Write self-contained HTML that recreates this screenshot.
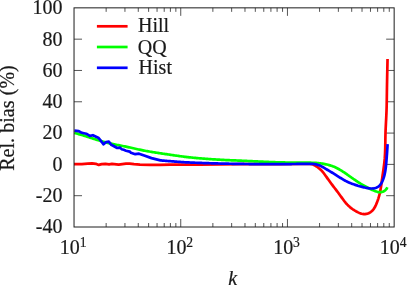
<!DOCTYPE html>
<html><head><meta charset="utf-8"><title>chart</title>
<style>html,body{margin:0;padding:0;background:#fff;}body{width:407px;height:285px;position:relative;overflow:hidden;font-family:"Liberation Serif",serif;}</style>
</head><body>
<svg width="407" height="285" viewBox="0 0 407 285" style="position:absolute;left:0;top:0;will-change:transform">
<rect width="407" height="285" fill="#fff"/>
<path d="M74.03,39.16h8 M394.15,39.16h-8 M74.03,70.46h8 M394.15,70.46h-8 M74.03,101.77h8 M394.15,101.77h-8 M74.03,133.08h8 M394.15,133.08h-8 M74.03,164.39h8 M394.15,164.39h-8 M74.03,195.69h8 M394.15,195.69h-8 M106.15,227.0v-4 M106.15,7.85v4 M124.94,227.0v-4 M124.94,7.85v4 M138.27,227.0v-4 M138.27,7.85v4 M148.61,227.0v-4 M148.61,7.85v4 M157.06,227.0v-4 M157.06,7.85v4 M164.21,227.0v-4 M164.21,7.85v4 M170.40,227.0v-4 M170.40,7.85v4 M175.85,227.0v-4 M175.85,7.85v4 M180.74,227.0v-8 M180.74,7.85v8 M212.86,227.0v-4 M212.86,7.85v4 M231.65,227.0v-4 M231.65,7.85v4 M244.98,227.0v-4 M244.98,7.85v4 M255.32,227.0v-4 M255.32,7.85v4 M263.77,227.0v-4 M263.77,7.85v4 M270.91,227.0v-4 M270.91,7.85v4 M277.10,227.0v-4 M277.10,7.85v4 M282.56,227.0v-4 M282.56,7.85v4 M287.44,227.0v-8 M287.44,7.85v8 M319.57,227.0v-4 M319.57,7.85v4 M338.36,227.0v-4 M338.36,7.85v4 M351.69,227.0v-4 M351.69,7.85v4 M362.03,227.0v-4 M362.03,7.85v4 M370.48,227.0v-4 M370.48,7.85v4 M377.62,227.0v-4 M377.62,7.85v4 M383.81,227.0v-4 M383.81,7.85v4 M389.27,227.0v-4 M389.27,7.85v4" stroke="#1c1c1c" stroke-width="0.75" fill="none"/>
<g fill="none" stroke-width="2.7" stroke-linejoin="round" stroke-linecap="butt">
<path d="M74.00,164.10 L81.80,164.10 L87.70,163.60 L92.10,163.30 L95.80,163.80 L98.70,164.90 L101.70,164.10 L105.40,163.80 L109.10,164.40 L112.00,163.90 L114.20,164.10 L118.70,164.70 L122.30,164.10 L126.00,163.60 L129.70,163.60 L134.00,164.20 L140.00,164.60 L150.00,164.90 L160.00,164.80 L170.00,164.60 L180.00,164.60 L200.00,164.70 L220.00,164.50 L240.00,164.20 L260.00,164.10 L280.00,164.10 L300.00,164.00 L310.00,164.00 L311.23,164.04 L312.40,164.29 L313.51,164.71 L314.58,165.26 L315.61,165.87 L316.62,166.52 L317.60,167.21 L318.56,167.93 L319.49,168.68 L320.39,169.48 L321.26,170.31 L322.08,171.18 L322.87,172.08 L323.62,173.02 L324.34,173.97 L325.05,174.94 L325.74,175.92 L326.44,176.90 L327.13,177.88 L327.82,178.86 L328.52,179.83 L329.22,180.81 L329.92,181.78 L330.62,182.75 L331.33,183.71 L332.05,184.67 L332.77,185.63 L333.49,186.58 L334.23,187.53 L334.96,188.48 L335.69,189.43 L336.42,190.38 L337.15,191.33 L337.87,192.29 L338.58,193.25 L339.29,194.22 L340.00,195.18 L340.70,196.16 L341.40,197.14 L342.09,198.11 L342.79,199.09 L343.50,200.06 L344.22,201.02 L344.96,201.96 L345.72,202.88 L346.51,203.77 L347.33,204.64 L348.18,205.48 L349.05,206.29 L349.95,207.08 L350.88,207.83 L351.84,208.56 L352.82,209.26 L353.82,209.94 L354.86,210.59 L355.91,211.21 L356.99,211.81 L358.09,212.38 L359.22,212.89 L360.36,213.34 L361.52,213.70 L362.69,213.96 L363.87,214.10 L365.05,214.10 L366.25,213.95 L367.43,213.66 L368.58,213.24 L369.68,212.70 L370.71,212.05 L371.66,211.30 L372.52,210.46 L373.29,209.55 L374.00,208.58 L374.63,207.55 L375.22,206.48 L375.75,205.38 L376.24,204.26 L376.71,203.13 L377.15,201.99 L377.57,200.86 L377.97,199.73 L378.35,198.59 L378.70,197.45 L379.03,196.30 L379.34,195.15 L379.63,194.00 L379.90,192.83 L380.14,191.67 L380.37,190.49 L380.58,189.31 L380.78,188.13 L380.97,186.95 L381.15,185.76 L381.32,184.57 L381.49,183.38 L381.65,182.19 L381.81,181.00 L381.98,179.81 L382.15,178.62 L382.31,177.44 L382.48,176.25 L382.65,175.06 L382.82,173.88 L382.99,172.69 L383.16,171.51 L383.33,170.32 L383.49,169.13 L383.66,167.95 L383.82,166.76 L383.97,165.57 L384.12,164.38 L384.27,163.19 L384.40,162.00 L384.52,160.81 L384.63,159.61 L384.74,158.42 L384.82,157.23 L384.90,156.03 L384.97,154.84 L385.03,153.64 L385.09,152.44 L385.13,151.25 L385.17,150.05 L385.21,148.85 L385.23,147.65 L385.26,146.45 L385.28,145.26 L385.30,144.06 L385.32,142.86 L385.33,141.66 L385.35,140.46 L385.37,139.26 L385.39,138.06 L385.41,136.86 L385.43,135.66 L385.46,134.46 L385.49,133.26 L385.53,132.07 L385.57,130.87 L385.62,129.67 L385.67,128.47 L385.73,127.28 L385.79,126.08 L385.85,124.88 L385.91,123.69 L385.97,122.49 L386.03,121.29 L386.10,120.10 L386.16,118.90 L386.22,117.70 L386.28,116.51 L386.33,115.31 L386.39,114.11 L386.44,112.91 L386.49,111.72 L386.53,110.52 L386.57,109.32 L386.61,108.12 L386.64,106.93 L386.67,105.73 L386.70,104.53 L386.72,103.33 L386.74,102.13 L386.76,100.94 L386.78,99.74 L386.80,98.54 L386.82,97.34 L386.83,96.14 L386.85,94.94 L386.87,93.75 L386.89,92.55 L386.90,91.35 L386.92,90.15 L386.94,88.95 L386.96,87.75 L386.98,86.56 L387.00,85.36 L387.02,84.16 L387.04,82.96 L387.07,81.76 L387.09,80.57 L387.11,79.37 L387.14,78.17 L387.16,76.97 L387.18,75.77 L387.21,74.57 L387.23,73.38 L387.26,72.18 L387.29,70.98 L387.31,69.78 L387.34,68.58 L387.36,67.39 L387.39,66.19 L387.42,64.99 L387.44,63.79 L387.47,62.59 L387.50,61.40 L387.52,60.20 L387.55,59.00" stroke="#ff0000"/>
<path d="M74.40,133.00 L75.46,133.26 L76.51,133.52 L77.57,133.80 L78.61,134.09 L79.66,134.38 L80.71,134.68 L81.75,134.99 L82.79,135.31 L83.83,135.63 L84.87,135.95 L85.90,136.28 L86.94,136.61 L87.97,136.95 L89.01,137.28 L90.04,137.62 L91.08,137.95 L92.11,138.29 L93.15,138.62 L94.18,138.96 L95.22,139.29 L96.26,139.61 L97.29,139.94 L98.33,140.25 L99.38,140.56 L100.42,140.87 L101.47,141.17 L102.51,141.46 L103.56,141.75 L104.61,142.03 L105.67,142.30 L106.72,142.57 L107.78,142.83 L108.83,143.09 L109.89,143.34 L110.95,143.58 L112.01,143.82 L113.08,144.06 L114.14,144.29 L115.20,144.51 L116.27,144.73 L117.33,144.95 L118.40,145.16 L119.47,145.37 L120.53,145.59 L121.60,145.80 L122.67,146.01 L123.74,146.22 L124.80,146.43 L125.87,146.64 L126.93,146.86 L128.00,147.09 L129.06,147.31 L130.12,147.55 L131.18,147.78 L132.24,148.02 L133.30,148.26 L134.37,148.51 L135.43,148.75 L136.49,148.99 L137.55,149.23 L138.61,149.46 L139.67,149.69 L140.74,149.92 L141.80,150.14 L142.87,150.35 L143.93,150.56 L145.00,150.77 L146.07,150.96 L147.14,151.16 L148.21,151.35 L149.28,151.54 L150.36,151.72 L151.43,151.90 L152.50,152.08 L153.58,152.25 L154.65,152.42 L155.72,152.59 L156.80,152.76 L157.87,152.92 L158.95,153.09 L160.02,153.25 L161.10,153.41 L162.18,153.57 L163.25,153.73 L164.33,153.88 L165.40,154.04 L166.48,154.20 L167.56,154.36 L168.63,154.52 L169.71,154.68 L170.78,154.83 L171.86,154.99 L172.93,155.15 L174.01,155.31 L175.09,155.47 L176.16,155.63 L177.24,155.78 L178.32,155.94 L179.39,156.09 L180.47,156.24 L181.55,156.38 L182.63,156.52 L183.70,156.66 L184.78,156.80 L185.86,156.93 L186.94,157.05 L188.02,157.17 L189.10,157.29 L190.19,157.41 L191.27,157.52 L192.35,157.63 L193.43,157.73 L194.52,157.84 L195.60,157.94 L196.68,158.04 L197.76,158.13 L198.85,158.23 L199.93,158.32 L201.02,158.41 L202.10,158.50 L203.18,158.59 L204.27,158.68 L205.35,158.76 L206.44,158.85 L207.52,158.93 L208.61,159.01 L209.69,159.09 L210.78,159.16 L211.86,159.24 L212.95,159.31 L214.03,159.38 L215.12,159.45 L216.20,159.52 L217.29,159.58 L218.37,159.65 L219.46,159.71 L220.54,159.77 L221.63,159.83 L222.72,159.88 L223.80,159.94 L224.89,159.99 L225.97,160.04 L227.06,160.09 L228.15,160.14 L229.23,160.19 L230.32,160.23 L231.41,160.28 L232.49,160.33 L233.58,160.37 L234.67,160.42 L235.75,160.46 L236.84,160.51 L237.93,160.55 L239.01,160.60 L240.10,160.65 L241.19,160.69 L242.27,160.74 L243.36,160.79 L244.44,160.84 L245.53,160.89 L246.62,160.94 L247.70,160.99 L248.79,161.04 L249.88,161.09 L250.96,161.14 L252.05,161.19 L253.14,161.24 L254.22,161.29 L255.31,161.34 L256.39,161.39 L257.48,161.45 L258.57,161.50 L259.65,161.55 L260.74,161.60 L261.83,161.65 L262.91,161.71 L264.00,161.76 L265.08,161.81 L266.17,161.86 L267.26,161.90 L268.34,161.95 L269.43,162.00 L270.52,162.04 L271.60,162.09 L272.69,162.13 L273.78,162.17 L274.86,162.21 L275.95,162.24 L277.04,162.27 L278.13,162.31 L279.21,162.34 L280.30,162.36 L281.39,162.39 L282.47,162.42 L283.56,162.44 L284.65,162.46 L285.74,162.48 L286.82,162.50 L287.91,162.52 L289.00,162.53 L290.09,162.55 L291.17,162.56 L292.26,162.58 L293.35,162.59 L294.43,162.60 L295.52,162.61 L296.61,162.62 L297.70,162.63 L298.78,162.64 L299.87,162.65 L300.96,162.66 L302.05,162.67 L303.13,162.67 L304.22,162.68 L305.31,162.69 L306.40,162.69 L307.48,162.70 L308.57,162.70 L309.66,162.71 L310.75,162.72 L311.84,162.73 L312.92,162.76 L314.01,162.79 L315.10,162.84 L316.18,162.91 L317.26,163.00 L318.35,163.10 L319.43,163.23 L320.50,163.37 L321.58,163.53 L322.66,163.70 L323.73,163.89 L324.80,164.09 L325.87,164.31 L326.94,164.55 L328.00,164.81 L329.05,165.08 L330.10,165.38 L331.14,165.71 L332.17,166.06 L333.18,166.44 L334.19,166.84 L335.19,167.28 L336.17,167.74 L337.14,168.22 L338.10,168.73 L339.05,169.26 L340.00,169.80 L340.93,170.37 L341.86,170.94 L342.78,171.53 L343.69,172.13 L344.60,172.74 L345.51,173.36 L346.40,173.98 L347.30,174.60 L348.19,175.23 L349.08,175.86 L349.96,176.49 L350.85,177.12 L351.74,177.74 L352.63,178.37 L353.52,178.99 L354.41,179.61 L355.30,180.23 L356.20,180.84 L357.11,181.44 L358.02,182.04 L358.94,182.62 L359.86,183.21 L360.78,183.78 L361.71,184.35 L362.65,184.91 L363.59,185.45 L364.53,185.99 L365.48,186.52 L366.43,187.04 L367.39,187.55 L368.35,188.05 L369.32,188.54 L370.29,189.01 L371.27,189.47 L372.26,189.91 L373.27,190.34 L374.29,190.75 L375.32,191.13 L376.37,191.50 L377.43,191.82 L378.50,192.06 L379.57,192.20 L380.65,192.21 L381.73,192.06 L382.79,191.75 L383.80,191.29 L384.73,190.70 L385.58,189.99 L386.30,189.16 L386.89,188.22 L387.30,187.20" stroke="#00ff00"/>
<path d="M74.40,130.60 L78.80,131.10 L81.80,132.80 L86.20,133.70 L89.90,135.90 L92.90,135.20 L98.70,138.00 L103.60,144.30 L106.10,142.10 L108.80,141.70 L111.30,144.80 L117.20,148.00 L120.10,147.60 L121.60,149.20 L123.80,149.80 L126.00,150.70 L129.70,151.60 L130.90,152.70 L135.30,154.20 L139.00,153.70 L144.20,155.60 L151.50,158.10 L160.40,160.40 L161.29,160.47 L162.19,160.54 L163.08,160.61 L163.98,160.68 L164.87,160.75 L165.77,160.82 L166.66,160.89 L167.56,160.97 L168.45,161.04 L169.35,161.11 L170.24,161.18 L171.13,161.26 L172.03,161.33 L172.92,161.40 L173.82,161.47 L174.71,161.54 L175.61,161.61 L176.50,161.68 L177.40,161.75 L178.29,161.82 L179.19,161.88 L180.08,161.94 L180.98,162.01 L181.87,162.07 L182.77,162.12 L183.66,162.18 L184.56,162.23 L185.46,162.28 L186.35,162.33 L187.25,162.38 L188.14,162.43 L189.04,162.47 L189.94,162.51 L190.83,162.55 L191.73,162.59 L192.63,162.63 L193.52,162.67 L194.42,162.71 L195.32,162.74 L196.21,162.77 L197.11,162.81 L198.01,162.84 L198.90,162.87 L199.80,162.90 L200.70,162.93 L201.60,162.97 L202.49,163.00 L203.39,163.03 L204.29,163.06 L205.18,163.09 L206.08,163.12 L206.98,163.14 L207.87,163.17 L208.77,163.20 L209.67,163.23 L210.56,163.26 L211.46,163.28 L212.36,163.31 L213.26,163.34 L214.15,163.36 L215.05,163.39 L215.95,163.41 L216.84,163.44 L217.74,163.46 L218.64,163.48 L219.54,163.51 L220.43,163.53 L221.33,163.55 L222.23,163.57 L223.12,163.59 L224.02,163.61 L224.92,163.63 L225.82,163.65 L226.71,163.67 L227.61,163.69 L228.51,163.71 L229.40,163.73 L230.30,163.75 L231.20,163.76 L232.10,163.78 L232.99,163.80 L233.89,163.81 L234.79,163.83 L235.69,163.85 L236.58,163.86 L237.48,163.88 L238.38,163.89 L239.27,163.90 L240.17,163.92 L241.07,163.93 L241.97,163.94 L242.86,163.96 L243.76,163.97 L244.66,163.98 L245.56,163.99 L246.45,164.00 L247.35,164.01 L248.25,164.02 L249.15,164.03 L250.04,164.04 L250.94,164.05 L251.84,164.06 L252.73,164.06 L253.63,164.07 L254.53,164.08 L255.43,164.08 L256.32,164.09 L257.22,164.09 L258.12,164.10 L259.02,164.10 L259.91,164.10 L260.81,164.11 L261.71,164.11 L262.61,164.11 L263.50,164.11 L264.40,164.11 L265.30,164.11 L266.20,164.11 L267.09,164.11 L267.99,164.11 L268.89,164.11 L269.78,164.11 L270.68,164.11 L271.58,164.11 L272.48,164.10 L273.37,164.10 L274.27,164.10 L275.17,164.10 L276.07,164.10 L276.96,164.10 L277.86,164.09 L278.76,164.09 L279.66,164.09 L280.56,164.09 L281.45,164.08 L282.35,164.08 L283.25,164.08 L284.15,164.08 L285.04,164.07 L285.94,164.07 L286.84,164.06 L287.74,164.06 L288.63,164.05 L289.53,164.05 L290.43,164.04 L291.32,164.03 L292.22,164.02 L293.12,164.01 L294.01,164.00 L294.91,163.99 L295.81,163.98 L296.71,163.97 L297.60,163.96 L298.50,163.94 L299.40,163.93 L300.29,163.92 L301.19,163.90 L302.09,163.89 L302.98,163.87 L303.88,163.86 L304.78,163.85 L305.68,163.83 L306.58,163.82 L307.47,163.81 L308.37,163.80 L309.27,163.79 L310.17,163.79 L311.07,163.80 L311.97,163.83 L312.86,163.89 L313.75,163.97 L314.65,164.09 L315.53,164.25 L316.41,164.44 L317.29,164.67 L318.15,164.93 L318.99,165.23 L319.83,165.57 L320.64,165.94 L321.45,166.34 L322.24,166.77 L323.02,167.21 L323.79,167.67 L324.56,168.13 L325.33,168.60 L326.10,169.06 L326.87,169.52 L327.65,169.98 L328.42,170.43 L329.19,170.89 L329.96,171.35 L330.74,171.80 L331.51,172.26 L332.28,172.72 L333.04,173.19 L333.81,173.65 L334.57,174.12 L335.34,174.60 L336.10,175.08 L336.85,175.56 L337.61,176.05 L338.36,176.53 L339.12,177.02 L339.88,177.51 L340.64,177.99 L341.40,178.46 L342.16,178.93 L342.93,179.40 L343.70,179.85 L344.48,180.29 L345.27,180.72 L346.07,181.13 L346.87,181.53 L347.68,181.92 L348.49,182.29 L349.32,182.65 L350.15,182.99 L350.98,183.33 L351.82,183.65 L352.66,183.96 L353.51,184.27 L354.36,184.56 L355.21,184.85 L356.07,185.13 L356.92,185.40 L357.78,185.67 L358.64,185.93 L359.50,186.18 L360.36,186.43 L361.23,186.66 L362.10,186.89 L362.97,187.11 L363.84,187.32 L364.71,187.52 L365.59,187.70 L366.48,187.88 L367.36,188.05 L368.25,188.20 L369.15,188.33 L370.04,188.43 L370.94,188.49 L371.84,188.50 L372.74,188.47 L373.64,188.37 L374.53,188.20 L375.41,187.97 L376.28,187.67 L377.11,187.30 L377.90,186.86 L378.64,186.35 L379.32,185.77 L379.94,185.14 L380.51,184.44 L381.03,183.71 L381.51,182.93 L381.95,182.12 L382.35,181.29 L382.72,180.45 L383.06,179.60 L383.37,178.74 L383.66,177.89 L383.93,177.03 L384.18,176.17 L384.40,175.30 L384.61,174.43 L384.80,173.56 L384.98,172.69 L385.15,171.81 L385.30,170.93 L385.44,170.04 L385.57,169.16 L385.69,168.27 L385.80,167.38 L385.91,166.49 L386.00,165.59 L386.09,164.70 L386.18,163.80 L386.26,162.91 L386.34,162.01 L386.41,161.11 L386.48,160.21 L386.55,159.32 L386.62,158.42 L386.69,157.53 L386.76,156.63 L386.83,155.74 L386.90,154.84 L386.96,153.95 L387.03,153.05 L387.09,152.16 L387.15,151.27 L387.21,150.37 L387.27,149.48 L387.33,148.58 L387.39,147.69 L387.44,146.79 L387.50,145.89 L387.55,145.00 L387.60,144.10" stroke="#0000ff"/>
<path d="M96.9,26.3H127.6" stroke="#ff0000"/>
<path d="M96.9,47H127.6" stroke="#00ff00"/>
<path d="M96.9,67.8H127.6" stroke="#0000ff"/>
</g>
<rect x="74.03" y="7.85" width="320.12" height="219.15" fill="none" stroke="#1c1c1c" stroke-width="1.0"/>
<g font-family="Liberation Serif, serif" font-size="20" fill="#1a1a1a" stroke="#1a1a1a" stroke-width="0.2">
<text x="62.5" y="14.25" text-anchor="end">100</text>
<text x="62.5" y="45.56" text-anchor="end">80</text>
<text x="62.5" y="76.86" text-anchor="end">60</text>
<text x="62.5" y="108.17" text-anchor="end">40</text>
<text x="62.5" y="139.48" text-anchor="end">20</text>
<text x="62.5" y="170.79" text-anchor="end">0</text>
<text x="62.5" y="202.09" text-anchor="end">-20</text>
<text x="62.5" y="233.40" text-anchor="end">-40</text>
<text x="59.73" y="254.1">10</text><text x="79.63" y="246.6" font-size="13.6">1</text>
<text x="166.44" y="254.1">10</text><text x="186.34" y="246.6" font-size="13.6">2</text>
<text x="273.14" y="254.1">10</text><text x="293.04" y="246.6" font-size="13.6">3</text>
<text x="379.85" y="254.1">10</text><text x="399.75" y="246.6" font-size="13.6">4</text>
<text x="138.0" y="32.3">Hill</text>
<text x="137.8" y="53.7">QQ</text>
<text x="138.6" y="73.6">Hist</text>
<text x="232.6" y="284.8" font-style="italic" text-anchor="middle">k</text>
<text transform="translate(14.2,118) rotate(-90)" text-anchor="middle" letter-spacing="0.05">Rel. bias (%)</text>
</g>
</svg>
</body></html>
